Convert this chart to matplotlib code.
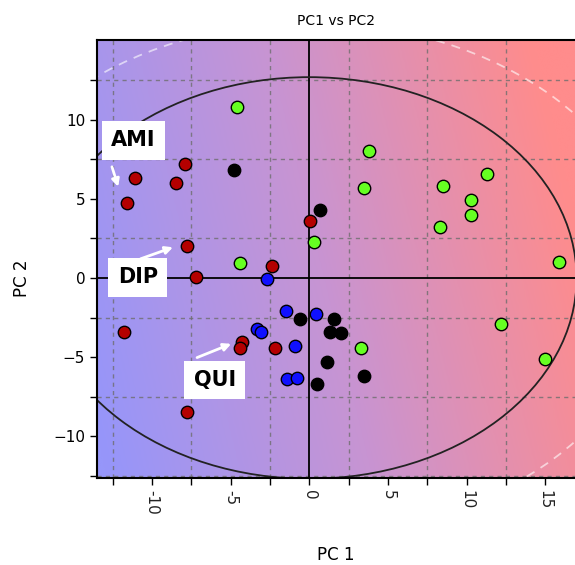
import matplotlib.pyplot as plt
import numpy as np
from matplotlib.patches import Ellipse
from matplotlib.colors import LinearSegmentedColormap

# scores per group (PC1, PC2)
red_pc1 = [-11.1, -11.6, -7.9, -8.5, -7.8, -7.2, -2.4, -11.8, -7.8, -4.3, -4.4, -2.2, 0.06]
red_pc2 = [6.3, 4.75, 7.2, 6.0, 2.0, 0.06, 0.76, -3.4, -8.5, -4.05, -4.4, -4.4, 3.6]

green_pc1 = [-4.6, -4.4, 3.8, 3.5, 0.27, 8.5, 11.3, 10.3, 10.3, 8.3, 15.9, 12.2, 15.0, 3.3]
green_pc2 = [10.8, 0.95, 8.0, 5.7, 2.3, 5.8, 6.6, 4.9, 4.0, 3.2, 1.0, -2.9, -5.1, -4.4]

black_pc1 = [-4.8, 0.7, -0.6, 1.55, 1.3, 2.0, 1.1, 3.5, 0.5]
black_pc2 = [6.8, 4.3, -2.6, -2.6, -3.4, -3.5, -5.3, -6.2, -6.7]

blue_pc1 = [-2.7, -1.5, 0.45, -3.3, -3.1, -0.9, -1.4, -0.8]
blue_pc2 = [-0.06, -2.1, -2.3, -3.2, -3.4, -4.3, -6.4, -6.3]

xticks = [-10, -5, 0, 5, 10, 15]
yticks = [-10, -5, 0, 5, 10]

xlim = (-13.5, 16.9)
ylim = (-12.65, 15.05)

fig = plt.figure(figsize=(5.75, 5.65), dpi=100)
ax = fig.add_axes([97/575, 1-478/565, 1-97/575, (478-40)/565])

# background gradient, blue bottom-left -> red top-right
cmap = LinearSegmentedColormap.from_list('bg', ['#9696fa', '#c894d2', '#ff8c8c'])
xn, yn = np.meshgrid(np.linspace(0, 1, 200), np.linspace(0, 1, 200))
grad = np.clip(0.9 * xn + 0.2 * yn - 0.02, 0, 1)
ax.imshow(grad, cmap=cmap, vmin=0, vmax=1, origin='lower',
          extent=[xlim[0], xlim[1], ylim[0], ylim[1]],
          aspect='auto', zorder=0, interpolation='bicubic')

# grid every 2.5
ax.set_xticks(np.arange(-12.5, 17, 2.5), minor=True)
ax.set_yticks(np.arange(-12.5, 15, 2.5), minor=True)
ax.grid(which='minor', color='#6e6e6e', linestyle=(0, (3, 3)), linewidth=1, alpha=0.8)
ax.set_axisbelow(True)

ax.axhline(0, color='black', lw=1.3, zorder=2)
ax.axvline(0, color='black', lw=1.3, zorder=2)

# confidence ellipses
ax.add_patch(Ellipse((0, 0), 34, 25.4, fill=False, ec='#222222', lw=1.3, zorder=2))
ax.add_patch(Ellipse((0, 0), 44, 32.3, fill=False, ec='white', lw=1.3,
                     ls=(0, (5, 4)), alpha=0.6, zorder=2))

kw = dict(s=80, edgecolors='black', linewidths=1.0, zorder=4)
ax.scatter(red_pc1, red_pc2, c='#b40000', **kw)
ax.scatter(green_pc1, green_pc2, c='#66ff22', **kw)
ax.scatter(black_pc1, black_pc2, c='black', **kw)
ax.scatter(blue_pc1, blue_pc2, c='#1010ff', **kw)

# labels with arrows
box = dict(boxstyle='square,pad=0.45', fc='white', ec='none')
for txt, pos, start, end in [('AMI', (-11.2, 8.7), (-12.6, 7.2), (-12.1, 5.6)),
                             ('DIP', (-10.9, 0.05), (-10.9, 1.15), (-8.5, 2.0)),
                             ('QUI', (-6.0, -6.45), (-7.3, -5.1), (-4.8, -4.1))]:
    ax.text(pos[0], pos[1], txt, fontsize=15, fontweight='bold', ha='center',
            va='center', bbox=box, zorder=5)
    ax.annotate('', xy=end, xytext=start,
                arrowprops=dict(arrowstyle='-|>', color='white', lw=2,
                                mutation_scale=11), zorder=5)

ax.set_xlim(xlim)
ax.set_ylim(ylim)
ax.set_xticks(xticks)
ax.set_yticks(yticks)
ax.set_xticklabels([str(t) for t in xticks], rotation=270)
ax.tick_params(which='both', direction='out', length=5, width=1, labelsize=11,
               colors='black')
ax.tick_params(axis='x', labelcolor='#222222')

for side in ['left', 'top', 'bottom']:
    ax.spines[side].set_linewidth(1.5)
ax.spines['right'].set_visible(False)

ax.set_title('PC1 vs PC2', fontsize=10, pad=11)
ax.set_xlabel('PC 1', fontsize=12, va='center')
ax.set_ylabel('PC 2', fontsize=12, va='center')
ax.xaxis.set_label_coords((336-97)/478, (478-555)/438)
ax.yaxis.set_label_coords((22-97)/478, (478-278)/438)

fig.savefig('out.png', dpi=100)
